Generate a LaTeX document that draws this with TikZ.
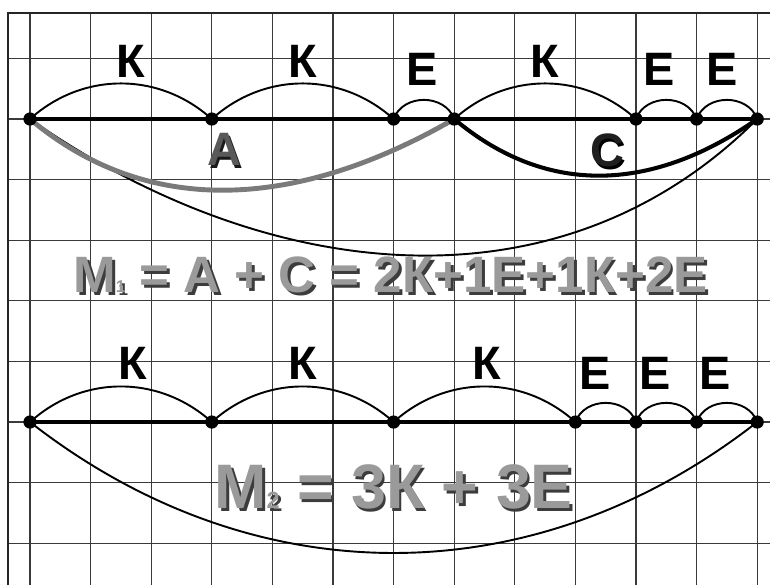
\documentclass[tikz,border=0pt]{standalone}
\usepackage{fontspec}
\setmainfont{Liberation Sans}
\usetikzlibrary{calc}

\definecolor{gridgray}{HTML}{3A3A3A}
\definecolor{reliefgray}{HTML}{9A9A9A}
\definecolor{reliefshade}{HTML}{3C3C3C}
\definecolor{partgray}{HTML}{7A7A7A}

% raised text: a dark copy shifted down right under the coloured one
\newcommand{\relief}[3]{%
  \leavevmode\rlap{\kern1.3pt\raisebox{-1.3pt}{\color{#2}#3}}{\color{#1}#3}}
\newcommand{\idx}[2]{{\fontsize{#1}{#1}\selectfont #2}}

\tikzset{
  gridline/.style={draw=gridgray, line width=0.6pt},
  frameline/.style={draw=black!85, line width=1pt},
  axis/.style={line width=1.9pt},
  hop/.style={line width=0.9pt},
  karc/.style={out=42, in=138},
  earc/.style={out=70, in=110, looseness=1.15},
  seglabel/.style={font=\fontsize{22}{26}\selectfont\bfseries, inner sep=0pt},
  formula/.style={inner sep=0pt, font=\bfseries}
}

\begin{document}
\begin{tikzpicture}
  \useasboundingbox (-0.495,-7.69) rectangle (12.211,1.964);
  \fill[white] (-0.495,-7.69) rectangle (12.211,1.964);

  % squared paper
  \draw[gridline] (-0.363,-7.69) grid (12.211,1.75);
  \draw[frameline] (-0.363,-7.69) -- (-0.363,1.75) -- (12.211,1.75);

  % first split
  \coordinate (a0) at (0,0);
  \coordinate (a1) at (3,0);
  \coordinate (a2) at (6,0);
  \coordinate (a3) at (7,0);
  \coordinate (a4) at (10,0);
  \coordinate (a5) at (11,0);
  \coordinate (a6) at (12,0);

  % second split
  \coordinate (b0) at (0,-5);
  \coordinate (b1) at (3,-5);
  \coordinate (b2) at (6,-5);
  \coordinate (b3) at (9,-5);
  \coordinate (b4) at (10,-5);
  \coordinate (b5) at (11,-5);
  \coordinate (b6) at (12,-5);

  \draw[hop] (a0) to[out=-35, in=-135] (a6);
  \draw[line width=2.3pt, partgray] (a0) to[out=-40, in=-150] (a3);
  \draw[line width=1.9pt] (a3) to[out=-40, in=-145, looseness=1.05] (a6);
  \draw[hop] (a0) to[karc] (a1) to[karc] (a2) to[earc] (a3)
             to[karc] (a4) to[earc] (a5) to[earc] (a6);
  \draw[axis] (a0) -- (a6);

  \draw[hop] (b0) to[out=-38, in=-142] (b6);
  \draw[hop] (b0) to[karc] (b1) to[karc] (b2) to[karc] (b3)
             to[earc] (b4) to[earc] (b5) to[earc] (b6);
  \draw[axis] (b0) -- (b6);

  \foreach \pt in {a0,a1,a2,a3,a4,a5,a6,b0,b1,b2,b3,b4,b5,b6}
    \fill (\pt) circle (3.1pt);

  \node[seglabel] (ka1) at (1.67,0.95) {К};
  \node[seglabel] (ka2) at (4.5,0.95)  {К};
  \node[seglabel] (ea3) at (6.47,0.82) {Е};
  \node[seglabel] (ka4) at (8.5,0.95)  {К};
  \node[seglabel] (ea5) at (10.38,0.82) {Е};
  \node[seglabel] (ea6) at (11.42,0.82) {Е};

  \node[seglabel] (kb1) at (1.7,-4.03)  {К};
  \node[seglabel] (kb2) at (4.5,-4.03)  {К};
  \node[seglabel] (kb3) at (7.54,-4.03) {К};
  \node[seglabel] (eb4) at (9.32,-4.19) {Е};
  \node[seglabel] (eb5) at (10.31,-4.19) {Е};
  \node[seglabel] (eb6) at (11.3,-4.19) {Е};

  \node[seglabel] (lA) at (3.2,-0.53)
    {\relief{black!65}{black!90}{А}};
  \node[seglabel] (lC) at (9.52,-0.54)
    {\relief{black!88}{black}{С}};

  \node[formula, font=\fontsize{24}{28}\selectfont\bfseries] (m1) at (5.95,-2.6)
    {\relief{reliefgray}{reliefshade}{М\idx{8}{1} = А + С = 2К+1Е+1К+2Е}};
  \node[formula, font=\fontsize{29.5}{34}\selectfont\bfseries] (m2) at (6.0,-6.1)
    {\relief{reliefgray}{reliefshade}{М\idx{11}{2} = 3К + 3Е}};
\end{tikzpicture}
\end{document}
